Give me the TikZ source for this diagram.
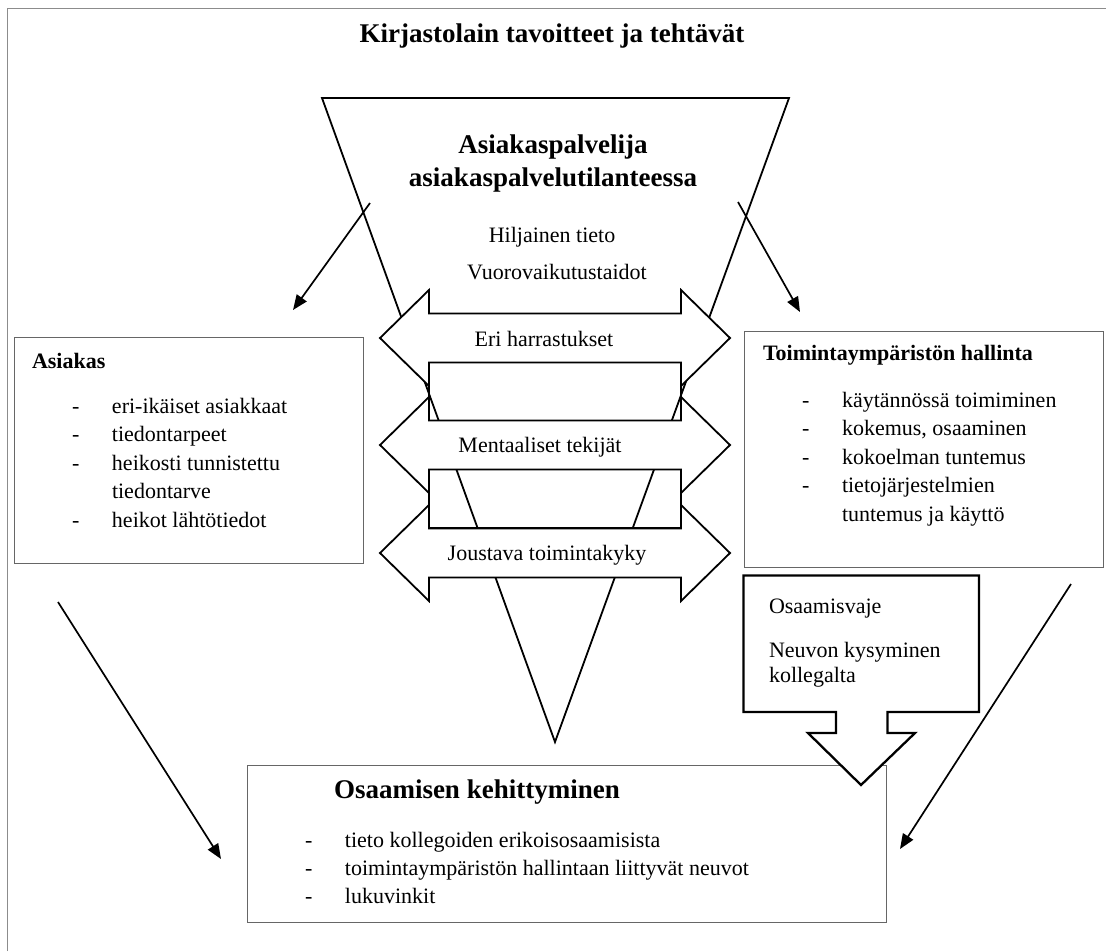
\documentclass[tikz,border=0pt]{standalone}
\usepackage{fontspec}
\setmainfont{Liberation Serif}
\usetikzlibrary{arrows.meta}
\newcommand\myreg{\fontsize{22}{28.5}\selectfont}
\newcommand\mybig{\fontsize{27}{33}\selectfont\bfseries}
\begin{document}
\begin{tikzpicture}[x=1pt,y=-1pt,
  every node/.style={inner sep=0pt, outer sep=0pt},
  frameline/.style={draw=black!45, line width=1pt},
  graybox/.style={draw=black!60, line width=1pt, rectangle, anchor=north west},
  heavy/.style={draw=black, line width=1.8pt, line join=miter, miter limit=10},
  callout/.style={draw=black, line width=2.3pt, line join=miter, miter limit=10, fill=white},
  dblarrow/.pic={\draw[heavy,fill=white] (-175,0) -- (-126,-48) -- (-126,-24.5) -- (126,-24.5) -- (126,-48) -- (175,0) -- (126,48) -- (126,24.5) -- (-126,24.5) -- (-126,48) -- cycle;},
  flow/.style={draw=black, line width=1.7pt, -{Triangle[length=15pt,width=12pt]}},
  regtxt/.style={font=\myreg},
  bigtxt/.style={font=\mybig},
  headtxt/.style={font=\myreg\bfseries, anchor=base west},
  listtxt/.style={font=\myreg, anchor=base west}
]
\useasboundingbox (0,0) rectangle (1106,951);
\fill[white] (0,0) rectangle (1106,951);
\draw[frameline] (7,951) -- (7,8) -- (1106,8);

% title
\node[bigtxt, anchor=base] (title) at (552,42) {Kirjastolain tavoitteet ja tehtävät};

% funnel
\draw[heavy] (322,98) -- (789,98) -- (555,742) -- cycle;
\draw[heavy] (429,362) rectangle (681,528);
\pic at (555,338) {dblarrow};
\pic at (555,445) {dblarrow};
\pic at (555,553) {dblarrow};
\node[regtxt, anchor=base] (eri) at (544,346) {Eri harrastukset};
\node[regtxt, anchor=base] (ment) at (540,452) {Mentaaliset tekijät};
\node[regtxt, anchor=base] (joust) at (547,560) {Joustava toimintakyky};

\node[bigtxt, anchor=base] (asp) at (553,153) {Asiakaspalvelija};
\node[bigtxt, anchor=base] (aspt) at (553,186) {asiakaspalvelutilanteessa};
\node[regtxt, anchor=base] (hilj) at (552,242) {Hiljainen tieto};
\node[regtxt, anchor=base] (vuor) at (557,279) {Vuorovaikutustaidot};

% diagonal arrows
\coordinate (p1) at (370,203); \coordinate (q1) at (293,310);
\coordinate (p2) at (738,202); \coordinate (q2) at (800,312);
\coordinate (p3) at (58,602);  \coordinate (q3) at (221,859);
\coordinate (p4) at (1071,584); \coordinate (q4) at (900,849);
\draw[flow] (p1) -- (q1);
\draw[flow] (p2) -- (q2);
\draw[flow] (p3) -- (q3);
\draw[flow] (p4) -- (q4);

% left box
\node[graybox, minimum width=349pt, minimum height=226pt] (asiakas) at (14,337) {};
\node[headtxt] (asiakasT) at (32,368) {Asiakas};
\node[listtxt] (asiakasL) at (72,413) {\begin{tabular}[t]{@{}p{40pt}@{}l@{}}-&eri-ikäiset asiakkaat\\-&tiedontarpeet\\-&heikosti tunnistettu\\&tiedontarve\\-&heikot lähtötiedot\end{tabular}};

% right box
\node[graybox, minimum width=359pt, minimum height=236pt] (toim) at (744,331) {};
\node[headtxt] (toimT) at (763,360) {Toimintaympäristön hallinta};
\node[listtxt] (toimL) at (802,407) {\begin{tabular}[t]{@{}p{40pt}@{}l@{}}-&käytännössä toimiminen\\-&kokemus, osaaminen\\-&kokoelman tuntemus\\-&tietojärjestelmien\\&tuntemus ja käyttö\end{tabular}};

% bottom box
\node[graybox, minimum width=639pt, minimum height=157pt] (osaam) at (247,765) {};
\node[bigtxt, anchor=base west] (osaamT) at (334,798) {Osaamisen kehittyminen};
\node[listtxt] (osaamL) at (305,847) {\fontsize{22}{28}\selectfont\begin{tabular}[t]{@{}p{40pt}@{}l@{}}-&tieto kollegoiden erikoisosaamisista\\-&toimintaympäristön hallintaan liittyvät neuvot\\-&lukuvinkit\end{tabular}};

% callout
\draw[callout] (743.5,575.5) -- (979,575.5) -- (979,712) -- (887.5,712) -- (887.5,733) -- (915,733) -- (861,785) -- (808,733) -- (836,733) -- (836,712) -- (743.5,712) -- cycle;
\node[listtxt] (vaje) at (769,613) {Osaamisvaje};
\node[listtxt] (neuvo) at (769,657) {Neuvon kysyminen};
\node[listtxt] (kolle) at (769,682) {kollegalta};
\end{tikzpicture}
\end{document}
